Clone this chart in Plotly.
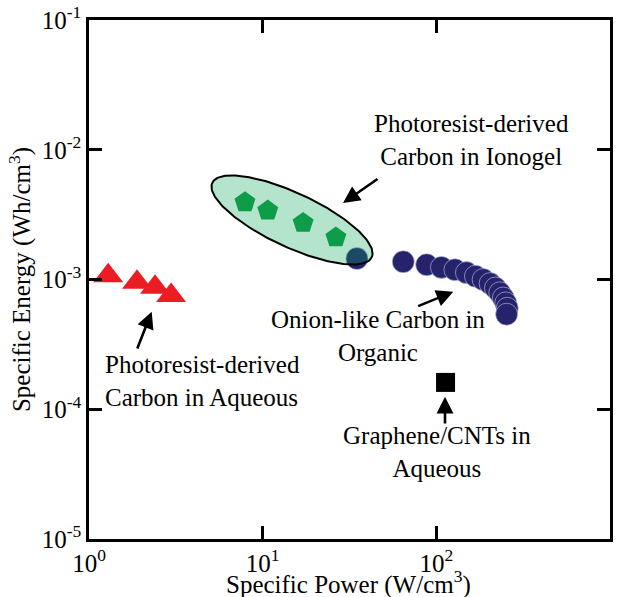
import math
import numpy as np
import plotly.graph_objects as go

# ---- data ----
aq_power = [1.29, 1.89, 2.40, 2.97]
aq_energy = [1.07e-3, 0.953e-3, 0.872e-3, 0.753e-3]

iono_power = [7.91, 10.7, 17.1, 26.4]
iono_energy = [3.94e-3, 3.40e-3, 2.73e-3, 2.11e-3]

olc_power = [34.9, 64.5, 88.0, 107, 128, 149, 168, 186, 204, 219, 232, 243, 251, 256, 254]
olc_energy = [1.45e-3, 1.37e-3, 1.30e-3, 1.24e-3, 1.19e-3, 1.13e-3, 1.06e-3, 1.00e-3,
              0.93e-3, 0.86e-3, 0.79e-3, 0.72e-3, 0.66e-3, 0.60e-3, 0.54e-3]

gr_power = [113]
gr_energy = [1.61e-4]

x_tickvals = [1, 10, 100, 1000]
x_ticktext = ["10<sup>0</sup>", "10<sup>1</sup>", "10<sup>2</sup>", "10<sup>3</sup>"]
y_tickvals = [1e-5, 1e-4, 1e-3, 1e-2, 1e-1]
y_ticktext = ["10<sup>-5</sup>", "10<sup>-4</sup>", "10<sup>-3</sup>", "10<sup>-2</sup>", "10<sup>-1</sup>"]

FONT = "Liberation Serif, Times New Roman, serif"
W, H = 626, 597
ML, MR, MT, MB = 89, 16, 20, 58
XDEC = (W - ML - MR) / 3.0   # px per decade
YDEC = (H - MT - MB) / 4.0

fig = go.Figure()

# onion-like carbon (drawn first, under the ellipse)
fig.add_trace(go.Scatter(
    x=olc_power, y=olc_energy, mode="markers",
    marker=dict(symbol="circle", size=22, color="#25236B",
                line=dict(color="rgba(190,190,225,0.8)", width=0.8)),
    hoverinfo="skip"))

# ellipse around ionogel points (defined in log space, pixel-proportional)
cu, cv = (292 - ML) / XDEC, -1 - (220 - MT) / YDEC
a_px, b_px, th = 88, 27, math.radians(25)
t = np.linspace(0, 2 * np.pi, 200)
px = a_px * np.cos(t) * math.cos(th) - b_px * np.sin(t) * math.sin(th)
py = a_px * np.cos(t) * math.sin(th) + b_px * np.sin(t) * math.cos(th)
eu = cu + px / XDEC
ev = cv - py / YDEC
fig.add_trace(go.Scatter(
    x=10 ** eu, y=10 ** ev, mode="lines", fill="toself",
    fillcolor="rgba(8,165,85,0.30)", line=dict(color="black", width=2),
    hoverinfo="skip"))

fig.add_trace(go.Scatter(
    x=iono_power, y=iono_energy, mode="markers",
    marker=dict(symbol="pentagon", size=22, color="#0E9C48", line=dict(width=0)),
    hoverinfo="skip"))

fig.add_trace(go.Scatter(
    x=aq_power, y=aq_energy, mode="markers",
    marker=dict(symbol="triangle-up", size=26, color="#EC1C24", line=dict(width=0)),
    hoverinfo="skip"))

fig.add_trace(go.Scatter(
    x=gr_power, y=gr_energy, mode="markers",
    marker=dict(symbol="square", size=19, color="black", line=dict(width=0)),
    hoverinfo="skip"))

tf = dict(family=FONT, size=25, color="black")

def px2u(x):
    return (x - ML) / XDEC

def py2v(y):
    return -1 - (y - MT) / YDEC

annotations = []
# arrows: (head_px, head_py, tail_px, tail_py)
for hx, hy, tx, ty in [(343, 203, 379, 178), (453.3, 291.7, 416.7, 306.7),
                       (151.7, 311.7, 136.7, 350), (445, 396.7, 445, 425)]:
    annotations.append(dict(
        x=px2u(hx), y=py2v(hy), xref="x", yref="y", text="",
        showarrow=True, arrowhead=2, arrowsize=1.3, arrowwidth=2.6,
        arrowcolor="black", ax=tx - hx, ay=ty - hy, standoff=0))

labels = [
    ("Photoresist-derived<br>Carbon in Ionogel", 471, 140, "center"),
    ("Onion-like Carbon in<br>Organic", 378, 336, "center"),
    ("Photoresist-derived<br>Carbon in Aqueous", 103, 381, "left"),
    ("Graphene/CNTs in<br>Aqueous", 437, 452, "center"),
]
for txt, lx, ly, al in labels:
    annotations.append(dict(
        x=px2u(lx), y=py2v(ly), xref="x", yref="y", text=txt,
        showarrow=False, font=tf, align=al, xanchor=al if al == "left" else "center",
        yanchor="middle"))

# x-axis title placed as paper annotation
annotations.append(dict(
    x=(348 - ML) / (W - ML - MR), y=-(582 - (H - MB)) / (H - MT - MB),
    xref="paper", yref="paper", text="Specific Power (W/cm<sup>3</sup>)",
    showarrow=False, font=tf, xanchor="center", yanchor="middle"))

axis_common = dict(
    type="log", showgrid=False, zeroline=False, showline=True, linecolor="black",
    linewidth=2.5, mirror="ticks", ticks="inside", ticklen=13, tickwidth=2.5,
    tickcolor="black", automargin=False,
    tickfont=dict(family=FONT, size=25, color="black"))

fig.update_layout(
    width=W, height=H, margin=dict(l=ML, r=MR, t=MT, b=MB, autoexpand=False),
    paper_bgcolor="white", plot_bgcolor="white", showlegend=False,
    font=dict(family=FONT, color="black"),
    xaxis=dict(range=[0, 3], tickvals=x_tickvals, ticktext=x_ticktext, **axis_common),
    yaxis=dict(range=[-5, -1], tickvals=y_tickvals, ticktext=y_ticktext,
               title=dict(text="Specific Energy (Wh/cm<sup>3</sup>)",
                          font=dict(family=FONT, size=25, color="black"), standoff=4),
               **axis_common),
    annotations=annotations,
)

fig.write_html("out.html")
